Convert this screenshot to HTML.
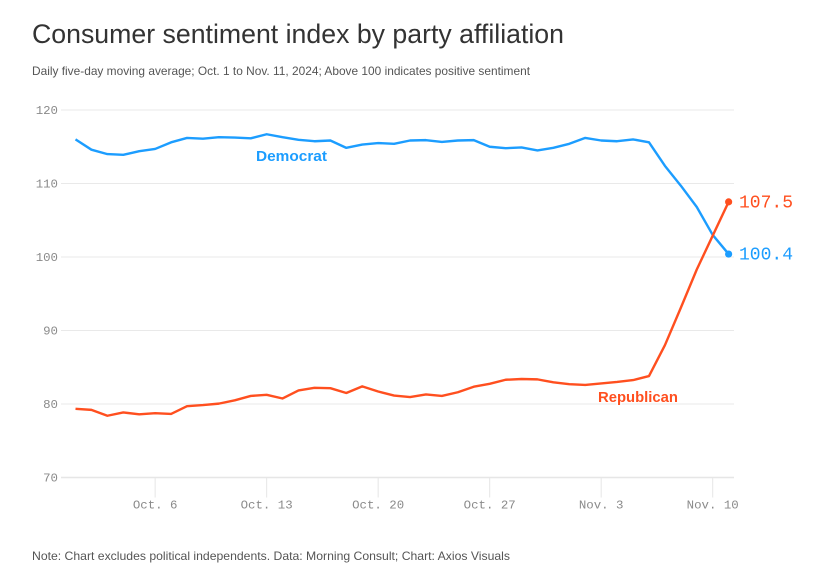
<!DOCTYPE html>
<html>
<head>
<meta charset="utf-8">
<title>Consumer sentiment index by party affiliation</title>
<style>
html,body{margin:0;padding:0;background:#fff;width:817px;height:580px;overflow:hidden}
svg{display:block}
text{font-family:"Liberation Sans",sans-serif}
.mono{font-family:"Liberation Mono",monospace}
</style>
</head>
<body>
<svg id="chart" width="817" height="580" viewBox="0 0 817 580" xmlns="http://www.w3.org/2000/svg">
  <rect width="817" height="580" fill="#fff"/>
  <text x="32" y="43" font-size="26.5" fill="#333" textLength="532" lengthAdjust="spacingAndGlyphs">Consumer sentiment index by party affiliation</text>
  <text x="32" y="75" font-size="12" fill="#555" textLength="498" lengthAdjust="spacingAndGlyphs">Daily five-day moving average; Oct. 1 to Nov. 11, 2024; Above 100 indicates positive sentiment</text>
  <g id="grid"></g>
  <g id="xticks"></g>
  <g id="yticks"></g>
  <g id="series"></g>
  <text x="256" y="161" font-size="14.5" font-weight="bold" fill="#1c9dff" textLength="71" lengthAdjust="spacingAndGlyphs">Democrat</text>
  <text x="598" y="402" font-size="14.5" font-weight="bold" fill="#ff4f1f" stroke="#fff" stroke-width="3" paint-order="stroke" textLength="80" lengthAdjust="spacingAndGlyphs">Republican</text>
  <text x="32" y="560" font-size="12" fill="#555" textLength="478" lengthAdjust="spacingAndGlyphs">Note: Chart excludes political independents. Data: Morning Consult; Chart: Axios Visuals</text>
</svg>
<script>
const dayIndex = [0,1,2,3,4,5,6,7,8,9,10,11,12,13,14,15,16,17,18,19,20,21,22,23,24,25,26,27,28,29,30,31,32,33,34,35,36,37,38,39,40,41];
const democrat = [116.0,114.6,114.0,113.9,114.4,114.7,115.6,116.2,116.1,116.3,116.25,116.15,116.7,116.3,115.95,115.75,115.85,114.85,115.3,115.5,115.4,115.85,115.9,115.65,115.85,115.9,115.0,114.8,114.9,114.5,114.85,115.4,116.2,115.85,115.75,116.0,115.6,112.4,109.7,106.8,103.0,100.4];
const republican = [79.35,79.2,78.4,78.85,78.6,78.75,78.65,79.7,79.85,80.05,80.5,81.1,81.25,80.75,81.85,82.2,82.15,81.5,82.4,81.7,81.15,80.95,81.3,81.1,81.6,82.35,82.75,83.3,83.4,83.35,82.95,82.7,82.6,82.8,83.0,83.25,83.8,88.0,93.1,98.3,102.9,107.5];
const yTickValues = [120,110,100,90,80,70];
const xTickDays = [5,12,19,26,33,40];
const xTickLabels = ["Oct. 6","Oct. 13","Oct. 20","Oct. 27","Nov. 3","Nov. 10"];
const democratEndLabel = "100.4";
const republicanEndLabel = "107.5";

const NS = "http://www.w3.org/2000/svg";
const xScale = d => 75.5 + d * 15.93;
const yScale = v => 257 - (v - 100) * 7.35;
const make = (parent, tag, attrs, text) => {
  const el = document.createElementNS(NS, tag);
  for (const k in attrs) el.setAttribute(k, attrs[k]);
  if (text !== undefined) el.textContent = text;
  parent.appendChild(el);
  return el;
};
const grid = document.getElementById('grid');
const yticks = document.getElementById('yticks');
const xticks = document.getElementById('xticks');
const series = document.getElementById('series');

yTickValues.forEach(v => {
  const line = make(grid, 'line', {x1:61, x2:734, y1:yScale(v), y2:yScale(v), stroke: v === 70 ? '#e6e6e6' : '#e9e9e9', 'stroke-width': v === 70 ? 1.6 : 1});
  
  
  const label = make(yticks, 'text', {x:58, y:yScale(v) + 4, 'text-anchor':'end', 'font-size':12.4, fill:'#8a8a8a', class:'mono'}, String(v));
  
  
});

xTickDays.forEach((d, i) => {
  const tick = make(xticks, 'line', {x1:xScale(d), x2:xScale(d), y1:yScale(70), y2:497.5, stroke:'#e6e6e6', 'stroke-width':1});
  
  
  const label = make(xticks, 'text', {x:xScale(d), y:508.5, 'text-anchor':'middle', 'font-size':12.4, fill:'#8a8a8a', class:'mono'}, xTickLabels[i]);
  
  
});

const pathFor = vals => vals.map((v, i) => (i ? 'L' : 'M') + xScale(dayIndex[i]).toFixed(2) + ' ' + yScale(v).toFixed(2)).join(' ');

const demLine = make(series, 'path', {d:pathFor(democrat), fill:'none', stroke:'#1c9dff', 'stroke-width':2.4, 'stroke-linejoin':'round'});


const repLine = make(series, 'path', {d:pathFor(republican), fill:'none', stroke:'#ff4f1f', 'stroke-width':2.4, 'stroke-linejoin':'round'});



const lastDay = dayIndex[dayIndex.length - 1];
const demLast = democrat[democrat.length - 1];
const repLast = republican[republican.length - 1];

const demDot = make(series, 'circle', {cx:xScale(lastDay), cy:yScale(demLast), r:3.6, fill:'#1c9dff'});


const repDot = make(series, 'circle', {cx:xScale(lastDay), cy:yScale(repLast), r:3.6, fill:'#ff4f1f'});



const demValue = make(series, 'text', {x:739, y:yScale(demLast) + 5.5, 'font-size':18, fill:'#1c9dff', class:'mono'}, democratEndLabel);


const repValue = make(series, 'text', {x:739, y:yScale(repLast) + 5.5, 'font-size':18, fill:'#ff4f1f', class:'mono'}, republicanEndLabel);


</script>
</body>
</html>
